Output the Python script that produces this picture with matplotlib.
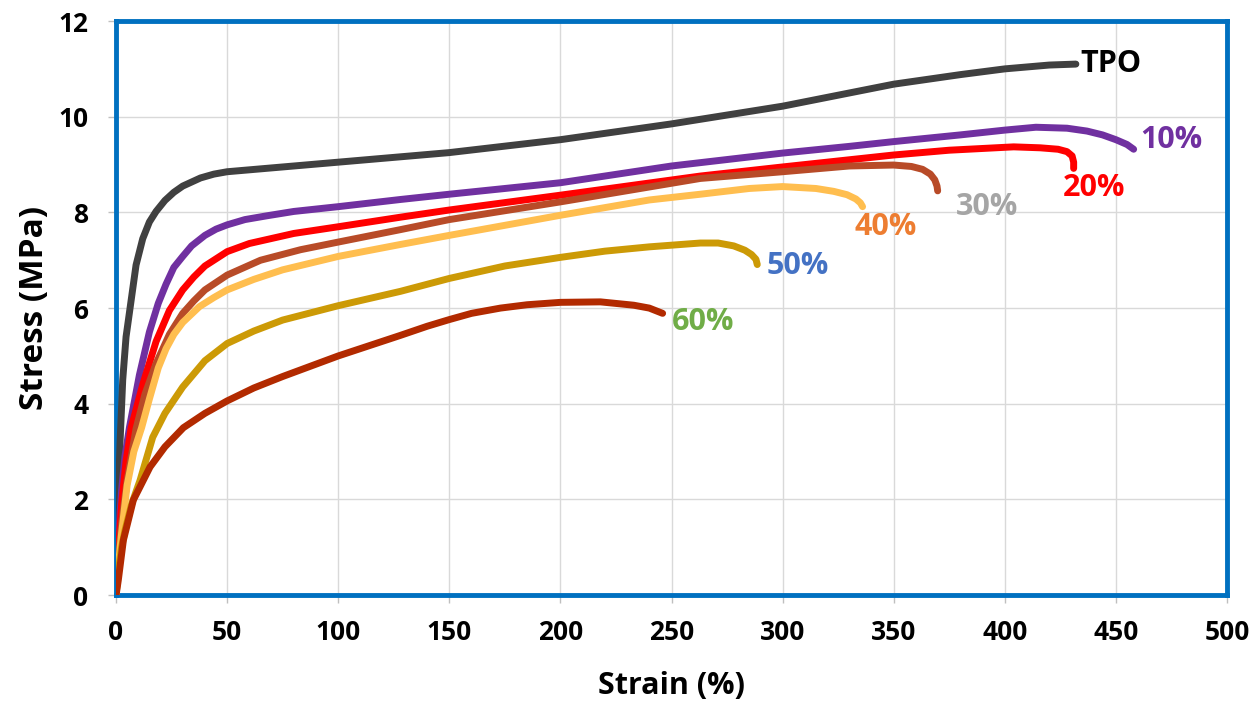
import numpy as np
import matplotlib.pyplot as plt

# strain (%) / stress (MPa)
tpo_x = [0, 0.5, 1, 1.8, 3, 4.5, 6, 9, 12, 15, 18, 22, 26, 30, 38, 44, 50, 75, 100, 150, 200, 250, 300, 350, 380, 400, 420, 432]
tpo_y = [0, 1, 2, 3.2, 4.5, 5.4, 5.9, 6.9, 7.45, 7.8, 8.02, 8.25, 8.42, 8.55, 8.72, 8.8, 8.85, 8.95, 9.05, 9.25, 9.52, 9.85, 10.22, 10.68, 10.88, 11.0, 11.08, 11.1]

p10_x = [0, 1, 2.5, 4, 6, 10.5, 15, 19, 22.5, 26, 30, 34, 40, 45, 50, 58, 68, 80, 100, 128, 150, 200, 250, 300, 330, 350, 380, 400, 414, 428, 437, 444, 450, 455, 458]
p10_y = [0, 1.1, 2.2, 2.9, 3.5, 4.6, 5.5, 6.1, 6.5, 6.85, 7.08, 7.3, 7.52, 7.65, 7.74, 7.85, 7.93, 8.02, 8.12, 8.27, 8.38, 8.62, 8.97, 9.24, 9.38, 9.48, 9.62, 9.72, 9.78, 9.76, 9.7, 9.62, 9.52, 9.42, 9.32]

p20_x = [0, 1, 2.5, 4.5, 6.8, 12, 18, 24, 30, 35, 40, 50, 60, 80, 100, 128, 150, 200, 263, 300, 330, 350, 375, 404, 416, 424, 428, 430.3, 431, 431]
p20_y = [0, 0.9, 1.9, 2.8, 3.5, 4.4, 5.3, 5.95, 6.38, 6.65, 6.88, 7.18, 7.35, 7.56, 7.7, 7.9, 8.05, 8.36, 8.76, 8.95, 9.1, 9.2, 9.3, 9.37, 9.35, 9.32, 9.27, 9.18, 9.05, 8.92]

p30_x = [0, 1, 2.5, 5, 9, 13, 18, 24, 30, 35, 40, 50, 65, 83, 100, 128, 150, 200, 263, 300, 330, 350, 358, 363, 366.5, 368.5, 369.5, 369.8]
p30_y = [0, 0.7, 1.5, 2.4, 3.48, 4.2, 4.84, 5.45, 5.89, 6.15, 6.38, 6.69, 7.0, 7.22, 7.38, 7.64, 7.85, 8.22, 8.71, 8.85, 8.97, 8.99, 8.96, 8.9, 8.8, 8.68, 8.55, 8.45]

p40_x = [0, 1, 2.5, 5, 8, 11.5, 15, 19, 22.5, 26, 30, 37.5, 44, 50, 62, 75, 100, 128, 150, 200, 240, 263, 285, 300, 315, 323, 329, 333, 335, 336]
p40_y = [0, 0.6, 1.3, 2.3, 3.0, 3.5, 4.1, 4.75, 5.15, 5.45, 5.7, 6.03, 6.22, 6.38, 6.6, 6.8, 7.08, 7.33, 7.52, 7.94, 8.26, 8.38, 8.5, 8.54, 8.5, 8.44, 8.37, 8.28, 8.2, 8.12]

p50_x = [0, 1, 2.5, 4, 7, 10.8, 16.5, 22, 30, 40, 50, 62, 75, 100, 128, 150, 175, 200, 220, 240, 263, 271, 278, 283, 286, 288, 288.6]
p50_y = [0, 0.5, 1.0, 1.35, 1.9, 2.4, 3.3, 3.8, 4.35, 4.9, 5.26, 5.52, 5.75, 6.05, 6.35, 6.62, 6.88, 7.06, 7.19, 7.28, 7.36, 7.36, 7.3, 7.21, 7.12, 7.02, 6.91]

p60_x = [0, 1, 3.3, 7.8, 15.3, 22, 30.3, 40, 50, 62, 75, 100, 128, 140, 150, 160, 173, 185, 200, 218, 233, 240, 246]
p60_y = [0, 0.31, 1.15, 1.99, 2.68, 3.1, 3.5, 3.8, 4.06, 4.33, 4.57, 5.0, 5.43, 5.62, 5.76, 5.89, 6.0, 6.07, 6.12, 6.13, 6.06, 6.0, 5.89]

line_colors = ["#404040", "#7030A0", "#FF0000", "#B84B28", "#FFBE4F", "#CC9A06", "#B22A00"]
labels = ["TPO", "10%", "20%", "30%", "40%", "50%", "60%"]
label_colors = ["#000000", "#7030A0", "#FF0000", "#A5A5A5", "#ED7D31", "#4472C4", "#70AD47"]
label_x = [434, 461, 426, 378, 332.5, 293, 250]
label_y = [11.1, 9.51, 8.51, 8.11, 7.69, 6.88, 5.71]

curves = [(tpo_x, tpo_y), (p10_x, p10_y), (p20_x, p20_y), (p30_x, p30_y),
          (p40_x, p40_y), (p50_x, p50_y), (p60_x, p60_y)]

plt.rcParams['font.family'] = ['Open Sans', 'DejaVu Sans']

fig = plt.figure(figsize=(12.52, 7.01), dpi=100)
ax = fig.add_axes([0.0927, 0.151, 0.8873, 0.819])

for (x, y), c in zip(curves, line_colors):
    ax.plot(x, y, color=c, lw=5, solid_capstyle='round', solid_joinstyle='round', zorder=3)

for t, tx, ty, c in zip(labels, label_x, label_y, label_colors):
    ax.text(tx, ty, t, color=c, fontsize=22, fontweight='bold', ha='left', va='center', zorder=4)

ax.set_xlim(0, 500)
ax.set_ylim(0, 12)
ax.set_xticks(np.arange(0, 501, 50))
ax.set_yticks(np.arange(0, 13, 2))
ax.grid(True, color="#D9D9D9", lw=1)
ax.set_axisbelow(True)
ax.tick_params(axis='both', length=6, color="#BFBFBF", width=1, labelsize=19)
ax.tick_params(axis='x', pad=11)
ax.tick_params(axis='y', pad=14)
for lab in ax.get_xticklabels() + ax.get_yticklabels():
    lab.set_fontweight('bold')
for sp in ax.spines.values():
    sp.set_color("#0070C0")
    sp.set_linewidth(3.5)

ax.set_xlabel("Strain (%)", fontsize=22, fontweight='bold', labelpad=18)
ax.set_ylabel("Stress (MPa)", fontsize=24, fontweight='bold', labelpad=5)

fig.savefig("out.png", dpi=100)
